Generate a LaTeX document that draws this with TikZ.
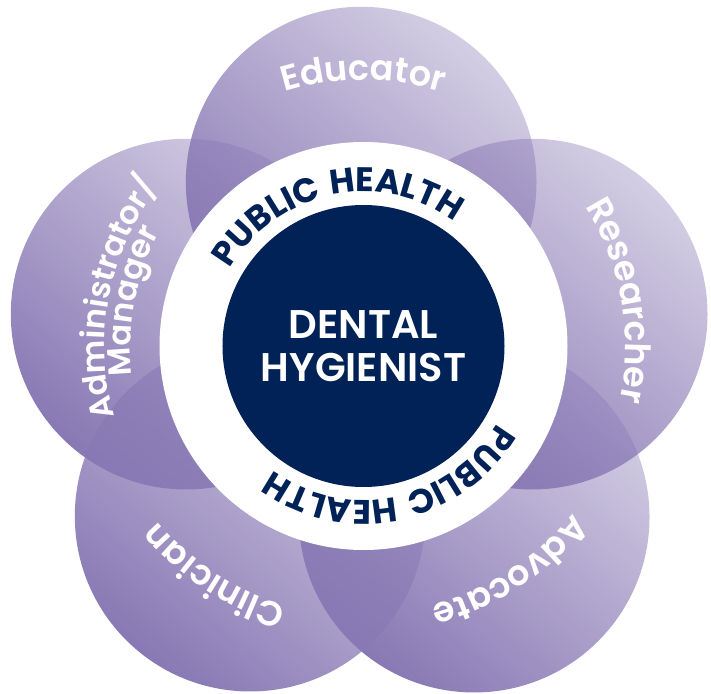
\documentclass[tikz,border=0pt]{standalone}
\usepackage{fontspec}
\setmainfont{Poppins}[BoldFont={* SemiBold}]
\newfontfamily\rolefamily{Poppins}[UprightFont={* SemiBold}, LetterSpace=4.0]
\newfontfamily\adminfamily{Poppins}[UprightFont={* SemiBold}]
\newfontfamily\ringfamily{Poppins}[UprightFont={* Bold}, LetterSpace=5.0]
\usepackage{tikz}
\usetikzlibrary{decorations.text, fadings}
\usepackage{xcolor}
\definecolor{navy}{HTML}{012256}
\definecolor{petalfill}{HTML}{8878B4}
\tikzfading[name=petalfade, top color=transparent!64, middle color=transparent!25,
            bottom color=transparent!0]
\newcommand{\rolefont}{\rolefamily\fontsize{35}{35}\selectfont}
\newcommand{\adminfont}{\adminfamily\fontsize{32}{32}\selectfont}
\newcommand{\ringfont}{\ringfamily\fontsize{34}{34}\selectfont}

\begin{document}
\begin{tikzpicture}[x=1pt, y=1pt,
    petal/.style={circle, minimum size=352pt, inner sep=0pt, fill=petalfill,
                  path fading=petalfade, fading angle=-40},
    ring/.style={circle, fill=white, minimum size=408pt, inner sep=0pt},
    core/.style={circle, fill=navy, minimum size=282pt, inner sep=0pt, text=white,
                 align=center, font=\bfseries\fontsize{40}{43}\selectfont},
    rolelbl/.style={decorate, decoration={text along path, text align=center,
                    text color=white, text={|\rolefont|#1}}},
    adminlbl/.style={decorate, decoration={text along path, text align=center,
                    text color=white, text={|\adminfont|#1}}},
    ringlbl/.style={decorate, decoration={text along path, text align=center,
                    text color=navy, text={|\ringfont|#1}}},
]
\useasboundingbox (-363.5,-347) rectangle (347.5,346);

% five roles round the middle
\foreach \nm/\px/\py in {adm/-175.5/32, edu/-0.5/164, res/170.5/32,
                         adv/112.5/-171, cli/-111.5/-170}{
  \node[petal] (\nm) at (\px,\py) {};
}

\node[ring] (ring) at (0,0) {};
\node[core] (hyg) at (0,0) {DENTAL\\HYGIENIST};

% ring text
\path[ringlbl={PUBLIC HEALTH}] (hyg.center) ++(162:154pt) arc[start angle=162, end angle=42, radius=154pt];
\path[ringlbl={PUBLIC HEALTH}] (hyg.center) ++(-18:154pt) arc[start angle=-18, end angle=-138, radius=154pt];

% role labels
\path[rolelbl={Educator}] (hyg.center) ++(130:266pt) arc[start angle=130, end angle=50, radius=266pt];
\path[rolelbl={Researcher}] (hyg.center) ++(55:262pt) arc[start angle=55, end angle=-35, radius=262pt];
\path[rolelbl={Advocate}] (hyg.center) ++(-12:268pt) arc[start angle=-12, end angle=-102, radius=268pt];
\path[rolelbl={Clinician}] (hyg.center) ++(-78:271pt) arc[start angle=-78, end angle=-168, radius=271pt];
\path[adminlbl={Administrator/}] (hyg.center) ++(219:259pt) arc[start angle=219, end angle=119, radius=259pt];
\path[adminlbl={Manager}] (hyg.center) ++(219:233pt) arc[start angle=219, end angle=119, radius=233pt];

\end{tikzpicture}
\end{document}
